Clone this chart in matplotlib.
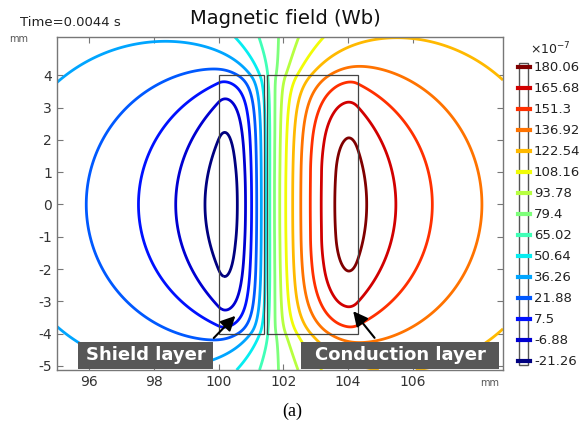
import matplotlib
matplotlib.use("Agg")
import matplotlib.pyplot as plt
import numpy as np
from matplotlib.patches import Rectangle
from matplotlib.lines import Line2D

plt.rcParams['axes.unicode_minus'] = False

# contour levels shown in the legend (x1e-7 Wb)
levels = [-21.26, -6.88, 7.5, 21.88, 36.26, 50.64, 65.02, 79.4,
          93.78, 108.16, 122.54, 136.92, 151.3, 165.68, 180.06]

# conductor rectangles (x0, x1, y0, y1) in mm
shield = (100.0, 101.4, -4.0, 4.0)
conduction = (101.5, 104.3, -4.0, 4.0)

# points: x (mm), y (mm), level
pt_x = [99.68, 100.59, 100.2, 98.73, 100.85, 100.15, 97.44, 101.05, 100.2,
        95.64, 101.19, 99.76, 95.0, 98.0, 101.31, 100.54, 101.41, 101.26, 101.57,
        101.88, 101.75, 102.45, 101.93, 103.22, 102.09, 106.0, 108.8, 102.27,
        102.45, 108.48, 104.76, 102.99, 106.73, 104.0, 103.17, 105.49, 103.9,
        103.51, 104.51, 103.94]
pt_y = [0, 0, 2.08, 0, 0, 3.22, 0, 0, 3.79,
        0, 0, 4.21, 4.52, 5.15, 0, 5.19, 0, 5.19, 0,
        5.19, 0, 5.19, 0, 5.19, 0, 5.15, 4.52, 0,
        0, 0, 4.26, 0, 0, 3.74, 0, 0, 3.12,
        0, 0, 1.93]
pt_level = [-21.26, -21.26, -21.26, -6.88, -6.88, -6.88, 7.5, 7.5, 7.5,
            21.88, 21.88, 21.88, 36.26, 36.26, 36.26, 50.64, 50.64, 65.02, 65.02,
            79.4, 79.4, 93.78, 93.78, 108.16, 108.16, 122.54, 122.54, 122.54,
            136.92, 136.92, 136.92, 151.3, 151.3, 151.3, 165.68, 165.68, 165.68,
            180.06, 180.06, 180.06]

xticks = [96, 98, 100, 102, 104, 106]
yticks = [-5, -4, -3, -2, -1, 0, 1, 2, 3, 4]
xlim = (95, 108.8)
ylim = (-5.13, 5.19)

W, H = 582, 429


def F(u, v):
    # antiderivative of ln(u^2 + v^2) du dv
    u = np.where(u == 0, 1e-12, u)
    v = np.where(v == 0, 1e-12, v)
    return u * v * (np.log(u * u + v * v) - 3) + u * u * np.arctan(v / u) + v * v * np.arctan(u / v)


def rect_log(X, Y, rect):
    x1, x2, y1, y2 = rect
    u1, u2 = X - x2, X - x1
    v1, v2 = Y - y2, Y - y1
    return F(u2, v2) - F(u1, v2) - F(u2, v1) + F(u1, v1)


def cells(rect, ncol, nband):
    # grid of cells; each band is mirrored above and below y=0
    xs = np.linspace(rect[0], rect[1], ncol + 1)
    ys = np.linspace(0, rect[3], nband + 1)
    return [[(xs[i], xs[i + 1], ys[k], ys[k + 1]) for k in range(nband)] for i in range(ncol)]


grids = [cells(shield, 4, 4), cells(conduction, 8, 4)]


def basis(X, Y):
    cols = [np.ones_like(X)]
    for g in grids:
        for col in g:
            for (a, b, lo, hi) in col:
                cols.append(rect_log(X, Y, (a, b, lo, hi)) + rect_log(X, Y, (a, b, -hi, -lo)))
    return np.stack(cols, axis=-1)


# smoothness penalty: curvature across each conductor, steps along it
n = 1 + sum(len(g) * len(g[0]) for g in grids)
pen = []
start = 1
for g in grids:
    nc, nb = len(g), len(g[0])
    for i in range(nc):
        for k in range(nb):
            idx = start + i * nb + k
            if i + 2 < nc:
                row = np.zeros(n); row[idx] = 1; row[idx + nb] = -2; row[idx + 2 * nb] = 1
                pen.append(row)
            if k + 1 < nb:
                row = np.zeros(n); row[idx] = 1; row[idx + 1] = -1; pen.append(row)
    start += nc * nb
mu = 2.0
P = np.sqrt(mu) * np.array(pen)

Bp = basis(np.array(pt_x, float), np.array(pt_y, float))
M = np.vstack([Bp, P])
rhs = np.concatenate([np.array(pt_level, float), np.zeros(len(pen))])
coef = np.linalg.lstsq(M, rhs, rcond=None)[0]

x = np.linspace(xlim[0], xlim[1], 360)
y = np.linspace(ylim[0], ylim[1], 280)
X, Y = np.meshgrid(x, y)
A = basis(X, Y) @ coef

colors = [plt.cm.jet(i / (len(levels) - 1)) for i in range(len(levels))]

fig = plt.figure(figsize=(W / 100, H / 100), dpi=100)
ax = fig.add_axes([57 / W, 1 - 370 / H, 446 / W, 333 / H])
ax.contour(X, Y, A, levels=levels, colors=colors, linewidths=2.0)

for r in (shield, conduction):
    ax.add_patch(Rectangle((r[0], r[2]), r[1] - r[0], r[3] - r[2],
                           fill=False, ec='#444444', lw=0.9, zorder=3))

ax.set_xlim(*xlim)
ax.set_ylim(*ylim)
ax.set_xticks(xticks)
ax.set_yticks(yticks)
ax.tick_params(direction='in', length=4, top=True, right=True, color='#777777',
               labelsize=10, labelcolor='#333333')
for s in ax.spines.values():
    s.set_color('#777777')
    s.set_linewidth(1.0)

# labelled boxes + arrows
ax.add_patch(Rectangle((95.66, -5.1), 99.84 - 95.66, 0.84, fc='#575757', ec='none', zorder=4))
ax.add_patch(Rectangle((102.56, -5.1), 108.69 - 102.56, 0.84, fc='#575757', ec='none', zorder=4))
ax.text(97.75, -4.68, 'Shield layer', color='white', fontsize=13, fontweight='bold',
        ha='center', va='center', zorder=5)
ax.text(105.62, -4.68, 'Conduction layer', color='white', fontsize=13, fontweight='bold',
        ha='center', va='center', zorder=5)
ax.annotate('', xy=(100.58, -3.39), xytext=(99.79, -4.2),
            arrowprops=dict(arrowstyle='-|>', color='black', lw=1.5, mutation_scale=22), zorder=6)
ax.annotate('', xy=(104.11, -3.24), xytext=(104.88, -4.2),
            arrowprops=dict(arrowstyle='-|>', color='black', lw=1.5, mutation_scale=22), zorder=6)

# titles and units
fig.text(285 / W, 1 - 18 / H, 'Magnetic field (Wb)', fontsize=14, ha='center', va='center', color='#111111')
fig.text(20 / W, 1 - 23 / H, 'Time=0.0044 s', fontsize=9.5, ha='left', va='center', color='#222222')
fig.text(9 / W, 1 - 39 / H, 'mm', fontsize=7, ha='left', va='center', color='#555555')
fig.text(480 / W, 1 - 383 / H, 'mm', fontsize=7, ha='left', va='center', color='#555555')
fig.text(292 / W, 1 - 411 / H, '(a)', fontsize=13, ha='center', va='center', family='Liberation Serif')

# level legend
fig.text(530 / W, 1 - 49 / H, r'$\times$10$^{-7}$', fontsize=9, ha='left', va='center', color='#222222')
fig.patches.append(Rectangle((519 / W, 1 - 365 / H), 9 / W, 302 / H, fill=False, ec='#555555',
                             lw=1.0, transform=fig.transFigure, figure=fig))
for i, lv in enumerate(levels[::-1]):
    py = 67.3 + i * 20.98
    c = colors[len(levels) - 1 - i]
    fig.lines.append(Line2D([518 / W, 530 / W], [1 - py / H, 1 - py / H], color=c, lw=3,
                            transform=fig.transFigure, figure=fig))
    fig.text(534 / W, 1 - py / H, f'{lv:g}', fontsize=9.5, ha='left', va='center', color='#222222')

fig.savefig('out.png', dpi=100)
